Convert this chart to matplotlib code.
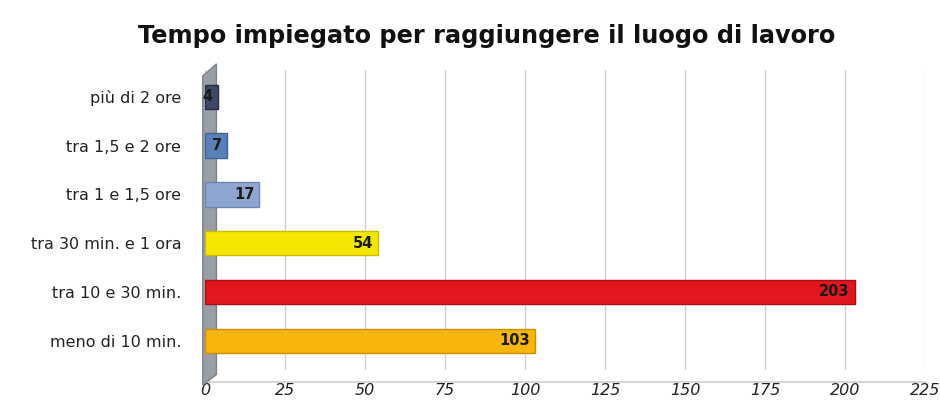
import matplotlib.pyplot as plt
from matplotlib.patches import Polygon
from matplotlib.ticker import MultipleLocator

# categorie e conteggi (dal basso verso l'alto)
categorie = ['meno di 10 min.', 'tra 10 e 30 min.', 'tra 30 min. e 1 ora',
             'tra 1 e 1,5 ore', 'tra 1,5 e 2 ore', 'più di 2 ore']
valori = [103, 203, 54, 17, 7, 4]
colori = ['#f5b50a', '#e2161f', '#f3e600', '#8ea5d0', '#5a80b8', '#3b4868']
bordi = ['#c98f00', '#a80e15', '#c9bc00', '#6d85b3', '#3f6298', '#252f48']

fig = plt.figure(figsize=(9.4, 4.04), dpi=100)
ax = fig.add_axes([0.218, 0.084, 0.766, 0.743])

y = range(len(categorie))
ax.barh(y, valori, height=0.5, color=colori, edgecolor=bordi, linewidth=1.0, zorder=3)

# etichette con i valori alla fine di ogni barra
for yi, v in zip(y, valori):
    ax.text(v - 1.5, yi, str(v), ha='right', va='center', fontsize=10.5,
            fontweight='bold', color='#1a1a1a', zorder=4)

ax.set_xlim(0, 225)
ax.set_ylim(-0.6, len(categorie) - 0.45)
ax.xaxis.set_major_locator(MultipleLocator(25))
ax.set_yticks(list(y))
ax.set_yticklabels(categorie, fontsize=11.5, color='#222222')
for lab in ax.get_xticklabels():
    lab.set_fontstyle('italic')
    lab.set_fontsize(11.5)
    lab.set_color('#222222')

ax.tick_params(axis='both', length=0)
ax.tick_params(axis='y', pad=17)
ax.tick_params(axis='x', pad=9)
ax.grid(axis='x', color='#d0d0d0', linewidth=1.0, zorder=0)
for s in ax.spines.values():
    s.set_visible(False)

# parete laterale grigia (effetto 3D)
parete = Polygon([[-0.003, -0.05], [0.016, -0.015], [0.016, 1.02], [-0.003, 0.98]],
                 closed=True, transform=ax.transAxes, facecolor='#9a9ea6',
                 edgecolor='#7d8189', clip_on=False, zorder=2)
ax.add_patch(parete)
# pavimento
ax.plot([0, 1], [-0.04, -0.04], transform=ax.transAxes, color='#cfcfcf',
        linewidth=1.2, clip_on=False, zorder=1)

fig.suptitle('Tempo impiegato per raggiungere il luogo di lavoro', x=0.518, y=0.94,
             fontsize=17.3, fontweight='bold', family='DejaVu Sans', color='#111111')

fig.savefig('out.png', dpi=100)
